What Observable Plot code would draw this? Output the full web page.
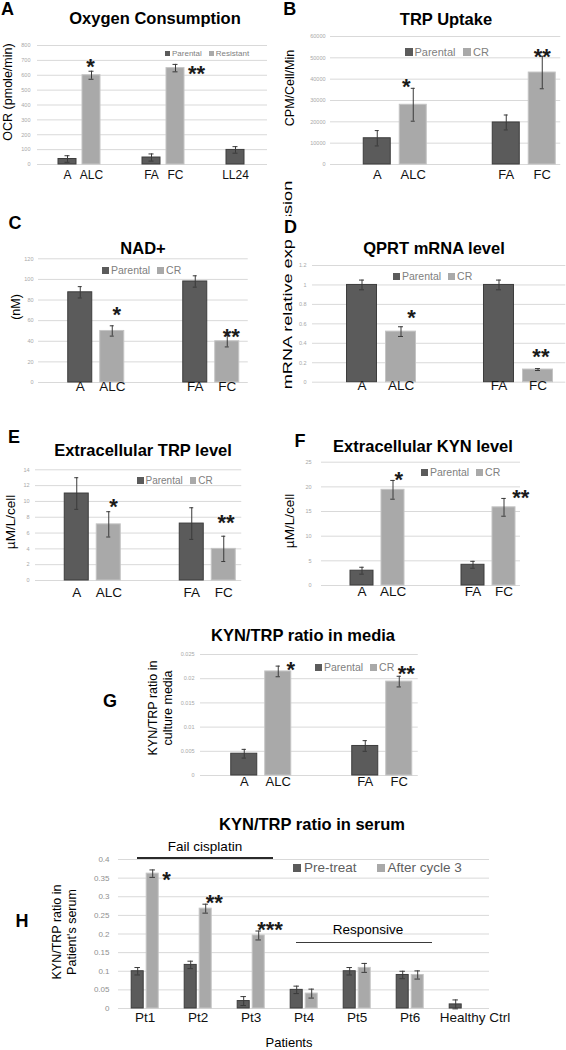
<!DOCTYPE html>
<html><head><meta charset="utf-8">
<script src="https://cdn.jsdelivr.net/npm/d3@7"></script>
<script src="https://cdn.jsdelivr.net/npm/@observablehq/plot@0.6"></script>
<style>
html,body{margin:0;padding:0;background:#fff;overflow:hidden;}
#page{position:relative;width:566px;height:1050px;overflow:hidden;background:#fff;font-family:"Liberation Sans",Arial,sans-serif;}
.t{position:absolute;white-space:pre;text-align:center;}
.w{position:absolute;}
</style></head><body><div id="page"></div>
<script>
// ---------------- data ----------------
// shared category layout for panels B-G
const afLabels = ["A", "ALC", "FA", "FC"];
const afSeries = ["Parental", "CR", "Parental", "CR"];
const afGroups = ["A", "A", "F", "F"];
const crNames = ["Parental", "CR"];

// A: Oxygen Consumption (OCR pmole/min)
const ocrLabels = ["A", "ALC", "FA", "FC", "LL24"];
const ocrSeries = ["Parental", "Resistant", "Parental", "Resistant", "Parental"];
const ocrGroups = ["A", "A", "F", "F", "L"];
const ocrNames = ["Parental", "Resistant"];
const ocrValues = [37, 600, 47, 648, 98];
const ocrErrors = [22, 27, 24, 25, 22];
const ocrStars = ["", "*", "", "**", ""];
const ocrTicks = [0, 100, 200, 300, 400, 500, 600, 700, 800];

// B: TRP Uptake (CPM/Cell/Min)
const uptakeValues = [12300, 28000, 19700, 43100];
const uptakeErrors = [3600, 7700, 3500, 7600];
const uptakeStars = ["", "*", "", "**"];
const uptakeTicks = [0, 10000, 20000, 30000, 40000, 50000, 60000];

// C: NAD+ (nM)
const nadValues = [87.5, 50, 98, 40];
const nadErrors = [5.5, 5, 5.5, 5.5];
const nadStars = ["", "*", "", "**"];
const nadTicks = [0, 20, 40, 60, 80, 100, 120];

// D: QPRT mRNA level
const qprtValues = [1, 0.52, 1, 0.13];
const qprtErrors = [0.05, 0.05, 0.05, 0.01];
const qprtStars = ["", "*", "", "**"];
const qprtTicks = [0, 0.2, 0.4, 0.6, 0.8, 1, 1.2];

// E: Extracellular TRP level
const exTrpValues = [11, 7.1, 7.2, 4];
const exTrpErrors = [2, 1.6, 2, 1.6];
const exTrpStars = ["", "*", "", "**"];
const exTrpTicks = [0, 2, 4, 6, 8, 10, 12, 14];

// F: Extracellular KYN level
const exKynValues = [3, 19.4, 4.2, 15.85];
const exKynErrors = [0.7, 1.9, 0.7, 1.8];
const exKynStars = ["", "*", "", "**"];
const exKynTicks = [0, 5, 10, 15, 20, 25];

// G: KYN/TRP ratio in media
const mediaValues = [0.0045, 0.0215, 0.0061, 0.0194];
const mediaErrors = [0.0009, 0.0011, 0.0011, 0.0011];
const mediaStars = ["", "*", "", "**"];
const mediaTicks = [0, 0.005, 0.01, 0.015, 0.02, 0.025];

// H: KYN/TRP ratio in serum
const serumPatients = ["Pt1", "Pt2", "Pt3", "Pt4", "Pt5", "Pt6", "Healthy Ctrl"];
const serumNames = ["Pre-treat", "After cycle 3"];
const serumPre = [0.10, 0.117, 0.02, 0.05, 0.10, 0.09, 0.011];
const serumPreErr = [0.01, 0.01, 0.012, 0.01, 0.01, 0.01, 0.012];
const serumAfter = [0.362, 0.268, 0.196, 0.04, 0.109, 0.09, null];
const serumAfterErr = [0.01, 0.012, 0.012, 0.012, 0.012, 0.011, null];
const serumStars = ["*", "**", "***", "", "", "", ""];
const serumTicks = [0, 0.05, 0.1, 0.15, 0.2, 0.25, 0.3, 0.35, 0.4];

// ---------------- styling ----------------
const SANS = '"Liberation Sans", Arial, Helvetica, sans-serif';
const NARROW = '"Liberation Sans Narrow", "Arial Narrow", "Liberation Sans", sans-serif';
const FILLS = ["#5b5b5b", "#a9a9a9"];
const EDGES = ["#3d3d3d", "#c4c4c4"];
const ERR = "#3a3a3a";
const GRID = "#d9d9d9";
const STAR_SIZE = 22;
const page = document.getElementById("page");
const fmtNum = d => String(+(+d).toFixed(4));

function rowsOf(groups, series, labels, values, errors, stars) {
  return values.map((v, i) => ({group: groups[i], series: series[i], label: labels[i], value: v, err: errors[i], star: stars[i]}));
}

function txt(s, cx, cy, o = {}) {
  const d = document.createElement("div");
  const fs = o.size || 12;
  d.className = "t";
  d.textContent = s;
  Object.assign(d.style, {
    left: cx + "px", top: cy + "px",
    fontSize: fs + "px", lineHeight: (o.lh || fs) + "px",
    fontWeight: o.weight || "normal", color: o.color || "#000",
    fontFamily: o.family || SANS, letterSpacing: (o.ls || 0) + "px",
    background: o.bg || "transparent", padding: o.pad || "0",
    transform: "translate(-50%,-50%)" + (o.rotate ? ` rotate(${o.rotate}deg)` : "") + (o.stretch ? ` scaleX(${o.stretch})` : "")
  });
  page.appendChild(d);
}

function hline(x1, x2, y, w, c) {
  const d = document.createElement("div");
  Object.assign(d.style, {position: "absolute", left: x1 + "px", top: (y - w / 2) + "px", width: (x2 - x1) + "px", height: w + "px", background: c});
  page.appendChild(d);
}

function legend(x, cy, names, o) {
  const d = document.createElement("div");
  Object.assign(d.style, {position: "absolute", left: x + "px", top: (cy - o.size / 2) + "px", height: o.size + "px",
    display: "flex", alignItems: "center", fontSize: o.size + "px", lineHeight: o.size + "px",
    fontFamily: o.family || NARROW, color: o.color || "#808080", whiteSpace: "nowrap"});
  names.forEach((n, i) => {
    const sw = document.createElement("span");
    Object.assign(sw.style, {display: "inline-block", width: o.sq + "px", height: o.sq + "px", background: FILLS[i],
      marginRight: o.sp + "px", marginLeft: i ? o.gap + "px" : "0"});
    const t = document.createElement("span");
    t.textContent = n;
    d.append(sw, t);
  });
  page.appendChild(d);
}

function panel(p) {
  const n = p.groups.length;
  const pi = 1 - p.barW / p.step;
  const po = (p.cell / p.step - 2 + pi) / 2;
  const mL = p.L - p.S, mT = p.yTop - p.T;
  const H = mT + (p.yBot - p.yTop) + p.mB;
  const mR = p.W - (mL + n * p.cell);
  const cut = Math.max(0, p.L + n * p.cell - p.G);
  const last = p.groups[n - 1];
  const grid = p.groups.flatMap(g => p.ticks.map(v => ({g, v})));
  const capIn = (p.barW - (p.capW || 5)) / 2;
  const lo = d => d.value - d.err, hi = d => d.value + d.err;
  const starRows = p.rows.filter(d => d.star);
  const marks = [
    Plot.ruleY(grid.filter(d => d.g !== last), {fx: "g", y: "v", stroke: GRID}),
    Plot.ruleY(grid.filter(d => d.g === last), {fx: "g", y: "v", stroke: GRID, insetRight: cut}),
    Plot.axisY({ticks: p.ticks, tickFormat: fmtNum, tickSize: 0, tickPadding: p.tickPad,
      fontSize: p.tickSize || 5.5, color: p.tickColor || "#a8a8a8", label: null}),
    ...p.series.map((s, i) => Plot.barY(p.rows.filter(d => d.series === s),
      {fx: "group", x: "series", y: "value", fill: FILLS[i], stroke: EDGES[i], strokeWidth: 1})),
    Plot.ruleX(p.rows, {fx: "group", x: "series", y1: lo, y2: hi, stroke: ERR}),
    Plot.tickY(p.rows, {fx: "group", x: "series", y: lo, stroke: ERR, insetLeft: capIn, insetRight: capIn}),
    Plot.tickY(p.rows, {fx: "group", x: "series", y: hi, stroke: ERR, insetLeft: capIn, insetRight: capIn}),
    ...starRows.map((d, k) => Plot.text([d], {fx: "group", x: "series", y: hi, text: "star",
      dx: p.starOff[k][0], dy: p.starOff[k][1], fontSize: STAR_SIZE, fontWeight: "bold", fill: "#1a1a1a"}))
  ];
  if (p.barLabels !== false) {
    marks.push(Plot.text(p.rows, {fx: "group", x: "series", text: "label", frameAnchor: "bottom",
      dy: p.labelDy, fontSize: p.labelSize, fill: "#111"}));
  } else {
    marks.push(Plot.text(p.groups.slice(0, -1), {fx: d => d, text: d => d, frameAnchor: "bottom",
      dy: p.labelDy, fontSize: p.labelSize, fill: "#111"}));
    marks.push(Plot.text(p.groups.slice(-1), {fx: d => d, text: d => d, frameAnchor: "bottom",
      dy: p.labelDy, dx: p.lastLabelDx || 0, fontSize: p.labelSize, fill: "#111"}));
  }
  const svg = Plot.plot({
    width: p.W, height: H, marginLeft: mL, marginRight: mR, marginTop: mT, marginBottom: p.mB,
    fx: {domain: p.groups, padding: 0, axis: null},
    x: {domain: p.series, paddingInner: pi, paddingOuter: po, axis: null},
    y: {domain: p.yDomain},
    style: {fontFamily: SANS, background: "transparent"},
    marks
  });
  const w = document.createElement("div");
  w.className = "w";
  Object.assign(w.style, {left: p.S + "px", top: p.T + "px", width: p.W + "px", height: H + "px"});
  w.appendChild(svg);
  page.appendChild(w);
}

// ---------------- panels ----------------
panel({rows: rowsOf(ocrGroups, ocrSeries, ocrLabels, ocrValues, ocrErrors, ocrStars),
  groups: ["A", "F", "L"], series: ocrNames, yDomain: [0, 800], ticks: ocrTicks,
  S: 0, T: 35, W: 270, L: 37, cell: 84, step: 24, barW: 18, yTop: 45, yBot: 164, mB: 26, G: 267,
  tickPad: 7, labelDy: 14.3, labelSize: 12, starOff: [[-1, -3.8], [21, 9.6]]});

panel({rows: rowsOf(afGroups, afSeries, afLabels, uptakeValues, uptakeErrors, uptakeStars),
  groups: ["A", "F"], series: crNames, yDomain: [0, 60000], ticks: uptakeTicks,
  S: 283, T: 28, W: 283, L: 329.75, cell: 129.5, step: 37, barW: 28, yTop: 36, yBot: 164, mB: 26, G: 561,
  tickPad: 5, labelDy: 14, labelSize: 13, starOff: [[-7, -1.3], [0, 0.2]]});

panel({rows: rowsOf(afGroups, afSeries, afLabels, nadValues, nadErrors, nadStars),
  groups: ["A", "F"], series: crNames, yDomain: [0, 120], ticks: nadTicks,
  S: 0, T: 245, W: 250, L: 37.25, cell: 115.5, step: 33, barW: 25, yTop: 258.3, yBot: 382, mB: 20, G: 248,
  tickPad: 5, labelDy: 8, labelSize: 13.5, starOff: [[4.5, -10.9], [4, 0.9]]});

panel({rows: rowsOf(afGroups, afSeries, afLabels, qprtValues, qprtErrors, qprtStars),
  groups: ["A", "F"], series: crNames, yDomain: [0, 1.2], ticks: qprtTicks,
  S: 283, T: 250, W: 283, L: 311.5, cell: 137.6, step: 39.3, barW: 30, yTop: 265, yBot: 381.7, mB: 20, G: 566,
  tickPad: 6, labelDy: 7.8, labelSize: 13.5, starOff: [[10.5, -8.8], [2.9, -12.1]]});

panel({rows: rowsOf(afGroups, afSeries, afLabels, exTrpValues, exTrpErrors, exTrpStars),
  groups: ["A", "F"], series: crNames, yDomain: [0, 14], ticks: exTrpTicks,
  S: 0, T: 460, W: 250, L: 34.75, cell: 115.5, step: 33, barW: 25, yTop: 469.3, yBot: 580, mB: 26, G: 242,
  tickPad: 6, labelDy: 16.7, labelSize: 13.5, starOff: [[4.8, -4.7], [2.2, -13.3]]});

panel({rows: rowsOf(afGroups, afSeries, afLabels, exKynValues, exKynErrors, exKynStars),
  groups: ["A", "F"], series: crNames, yDomain: [0, 25], ticks: exKynTicks,
  S: 283, T: 455, W: 252, L: 321, cell: 111, step: 31.7, barW: 23.5, yTop: 461.7, yBot: 585, mB: 20, G: 520,
  tickPad: 10, labelDy: 10, labelSize: 13.5, starOff: [[5.7, -0.1], [16.7, -0.8]]});

panel({rows: rowsOf(afGroups, afSeries, afLabels, mediaValues, mediaErrors, mediaStars),
  groups: ["A", "F"], series: crNames, yDomain: [0, 0.025], ticks: mediaTicks,
  S: 170, T: 645, W: 250, L: 199.25, cell: 121.5, step: 34.7, barW: 26.7, yTop: 654, yBot: 775, mB: 20, G: 418,
  tickPad: 6, labelDy: 10, labelSize: 13, starOff: [[12.65, 4.3], [7, -2.6]]});

const serumRows = serumPatients.flatMap((pt, i) => {
  const r = [{group: pt, series: serumNames[0], label: pt, value: serumPre[i], err: serumPreErr[i], star: ""}];
  if (serumAfter[i] != null) r.push({group: pt, series: serumNames[1], label: pt, value: serumAfter[i], err: serumAfterErr[i], star: serumStars[i]});
  return r;
});
panel({rows: serumRows, groups: serumPatients, series: serumNames, yDomain: [0, 0.4], ticks: serumTicks,
  S: 80, T: 850, W: 460, L: 115.8, cell: 53.7, step: 15.2, barW: 12, capW: 5.5, yTop: 859, yBot: 1008, mB: 24, G: 492,
  tickPad: 9, tickSize: 8, tickColor: "#8f8f8f", labelDy: 13.7, labelSize: 13.5, barLabels: false, lastLabelDx: 12,
  starOff: [[13.75, 10], [8.5, -1], [11.35, -1.1]]});

// ---------------- text ----------------
txt("mRNA relative expression", 288, 284.5, {size: 12.5, rotate: -90, stretch: 1.45});

const L18 = {size: 18, weight: "bold"};
txt("A", 7.5, 8.5, L18); txt("B", 289.7, 8.5, L18); txt("C", 15, 223.3, L18);
txt("D", 290.5, 226.5, {size: 18, weight: "bold", bg: "#fff", pad: "2px 1px"});
txt("E", 14, 436.5, L18); txt("F", 300, 441, L18); txt("G", 110, 701, L18); txt("H", 22, 921, L18);

const T16 = {size: 16.5, weight: "bold"};
txt("Oxygen Consumption", 155, 17.5, T16);
txt("TRP Uptake", 446, 19.2, T16);
txt("NAD+", 143, 248.3, T16);
txt("QPRT mRNA level", 434, 247.5, T16);
txt("Extracellular TRP level", 143, 450, T16);
txt("Extracellular KYN level", 423, 446, T16);
txt("KYN/TRP ratio in media", 303, 635, T16);
txt("KYN/TRP ratio in serum", 312, 824, T16);

txt("OCR (pmole/min)", 7.5, 92, {size: 12.5, rotate: -90});
txt("CPM/Cell/Min", 290, 88, {size: 12.5, rotate: -90});
txt("(nM)", 16, 306.5, {size: 12.5, rotate: -90});
txt("µM/L/cell", 11, 521.7, {size: 13.5, rotate: -90});
txt("µM/L/cell", 290, 521, {size: 13.5, rotate: -90});
txt("KYN/TRP ratio in\nculture media", 160, 708, {size: 12.5, lh: 14.5, rotate: -90});
txt("KYN/TRP ratio in\nPatient's serum", 64, 931.5, {size: 12.5, lh: 14.5, rotate: -90});

legend(165, 53.5, ocrNames, {size: 8, sq: 5, sp: 2, gap: 7});
legend(405, 52, crNames, {size: 11, sq: 7.5, sp: 2, gap: 8});
legend(102, 270, crNames, {size: 10.5, sq: 7, sp: 2, gap: 7});
legend(393, 276, crNames, {size: 10.5, sq: 7, sp: 2, gap: 7});
legend(137, 480.5, crNames, {size: 10, sq: 6.5, sp: 2, gap: 7});
legend(421, 472, crNames, {size: 10.5, sq: 7, sp: 2, gap: 7});
legend(315, 667, crNames, {size: 10.5, sq: 7, sp: 2, gap: 7});
legend(293, 868, serumNames, {size: 13.5, sq: 8, sp: 3, gap: 20, color: "#606060", family: SANS});

txt("Fail cisplatin", 205, 846.7, {size: 13.5});
hline(137, 273, 858, 1.4, "#2a2a2a");
txt("Responsive", 368, 930, {size: 13.5});
hline(296, 432, 942.7, 1.4, "#3a3a3a");
txt("Patients", 289, 1042, {size: 13});
</script></body></html>
